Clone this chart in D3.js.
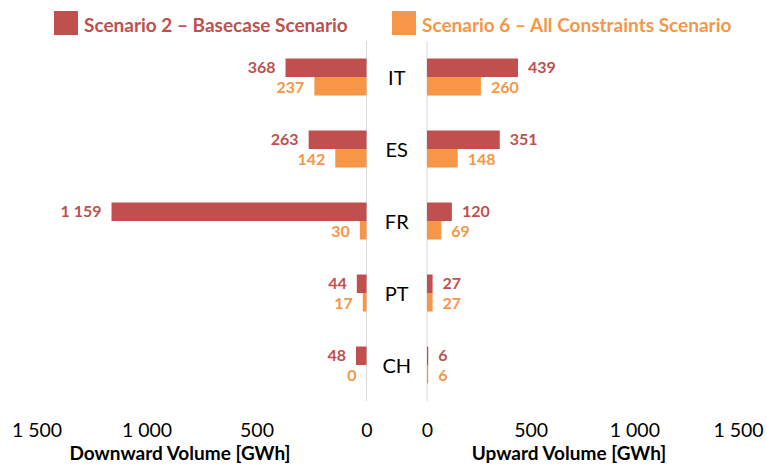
<!DOCTYPE html>
<html>
<head>
<meta charset="utf-8">
<script src="https://cdn.jsdelivr.net/npm/d3@7"></script>
<style>
  html, body { margin: 0; padding: 0; background: #fff; }
  svg { display: block; font-family: Lato, "Open Sans", sans-serif; }
</style>
</head>
<body>
<svg id="chart" width="767" height="468"></svg>
<script>
const categories = ["IT", "ES", "FR", "PT", "CH"];
const seriesNames = ["Scenario 2 – Basecase Scenario", "Scenario 6 – All Constraints Scenario"];
const downScenario2 = [368, 263, 1159, 44, 48];
const downScenario6 = [237, 142, 30, 17, 0];
const upScenario2 = [439, 351, 120, 27, 6];
const upScenario6 = [260, 148, 69, 27, 6];
const tickValues = [0, 500, 1000, 1500];
const axisTitles = ["Downward Volume [GWh]", "Upward Volume [GWh]"];
const colors = ["#C0504D", "#F79646"];

const svg = d3.select("#chart");
const locale = d3.formatLocale({ decimal: ",", thousands: "\u00a0", grouping: [3], currency: ["", ""] });
const fmt = locale.format(",");

const xL = d3.scaleLinear().domain([0, 1500]).range([366.5, 36.5]);
const xR = d3.scaleLinear().domain([0, 1500]).range([427, 738]);
const y = d3.scaleBand().domain(categories).range([41, 401]).paddingInner(0.486).paddingOuter(0.243);
const ySub = d3.scaleBand().domain([0, 1]).range([0, y.bandwidth()]);

// axis lines
[xL(0), xR(0)].forEach(x => {
  svg.append("line").attr("x1", x).attr("x2", x).attr("y1", y.range()[0]).attr("y2", y.range()[1])
    .attr("stroke", "#d9d9d9").attr("stroke-width", 1);
});

const rows = categories.map((c, i) => ({
  cat: c,
  down: [downScenario2[i], downScenario6[i]],
  up: [upScenario2[i], upScenario6[i]]
}));

const labelShift = [-0.8, 0.8];
const g = svg.append("g");
rows.forEach(r => {
  [0, 1].forEach(s => {
    const yy = y(r.cat) + ySub(s);
    const h = ySub.bandwidth();
    const cy = yy + h / 2 + labelShift[s];
    // left bar
    g.append("rect").attr("x", xL(r.down[s])).attr("y", yy)
      .attr("width", xL(0) - xL(r.down[s])).attr("height", h).attr("fill", colors[s]);
    g.append("text").attr("x", xL(r.down[s]) - 10).attr("y", cy + 6)
      .attr("text-anchor", "end").attr("font-weight", "bold").attr("font-size", 16)
      .attr("fill", colors[s]).text(fmt(r.down[s]));
    // right bar
    g.append("rect").attr("x", xR(0)).attr("y", yy)
      .attr("width", xR(r.up[s]) - xR(0)).attr("height", h).attr("fill", colors[s]);
    g.append("text").attr("x", xR(r.up[s]) + 10).attr("y", cy + 6)
      .attr("text-anchor", "start").attr("font-weight", "bold").attr("font-size", 16)
      .attr("fill", colors[s]).text(fmt(r.up[s]));
  });
  g.append("text").attr("x", (xL(0) + xR(0)) / 2).attr("y", y(r.cat) + y.bandwidth() / 2 + 7.5)
    .attr("text-anchor", "middle").attr("font-size", 20).attr("fill", "#000").text(r.cat);
});

// tick axes
function styleAxis(sel) {
  sel.select(".domain").remove();
  sel.selectAll("text").attr("font-size", 19.5).attr("fill", "#000").attr("font-family", "Lato, sans-serif");
}
svg.append("g").attr("transform", "translate(0,420)")
  .call(d3.axisBottom(xL).tickValues(tickValues).tickSize(0).tickFormat(fmt)).call(styleAxis);
svg.append("g").attr("transform", "translate(0,420)")
  .call(d3.axisBottom(xR).tickValues(tickValues).tickSize(0).tickFormat(fmt)).call(styleAxis);

// axis titles
svg.append("text").attr("x", 180).attr("y", 460).attr("text-anchor", "middle")
  .attr("font-weight", "bold").attr("font-size", 19).attr("fill", "#000").text(axisTitles[0]);
svg.append("text").attr("x", 569).attr("y", 460).attr("text-anchor", "middle")
  .attr("font-weight", "bold").attr("font-size", 19).attr("fill", "#000").text(axisTitles[1]);

// legend
const legendX = [54, 392];
seriesNames.forEach((name, i) => {
  svg.append("rect").attr("x", legendX[i]).attr("y", 11).attr("width", 24).attr("height", 24).attr("fill", colors[i]);
  svg.append("text").attr("x", legendX[i] + 30).attr("y", 32).attr("font-weight", "bold")
    .attr("font-size", 19).attr("fill", colors[i]).text(name);
});
</script>
</body>
</html>
